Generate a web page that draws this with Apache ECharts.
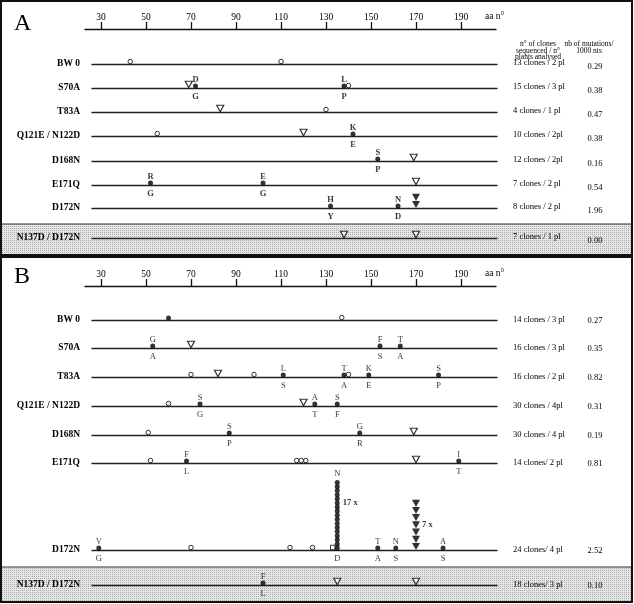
<!DOCTYPE html>
<html><head><meta charset="utf-8">
<script src="https://cdn.jsdelivr.net/npm/echarts@6/dist/echarts.min.js"></script>
<style>html,body{margin:0;padding:0;background:#fff}#c{width:634px;height:604px}</style>
</head><body><div id="c"></div>
<script>
// ---------- DATA ----------
const axisTicks = [30, 50, 70, 90, 110, 130, 150, 170, 190];
const rowNames = ['BW 0', 'S70A', 'T83A', 'Q121E / N122D', 'D168N', 'E171Q', 'D172N', 'N137D / D172N'];
const clonesA = ['13 clones / 2 pl', '15 clones / 3 pl', '4 clones / 1 pl', '10 clones / 2pl', '12 clones / 2pl', '7 clones / 2 pl', '8 clones / 2 pl', '7 clones / 1 pl'];
const rateA = ['0.29', '0.38', '0.47', '0.38', '0.16', '0.54', '1.96', '0.00'];
const clonesB = ['14 clones / 3 pl', '16 clones / 3 pl', '16 clones / 2 pl', '30 clones / 4pl', '30 clones / 4 pl', '14 clones/ 2 pl', '24 clones/ 4 pl', '18 clones/ 3 pl'];
const rateB = ['0.27', '0.35', '0.82', '0.31', '0.19', '0.81', '2.52', '0.10'];
const headClones = ['n° of clones', 'sequenced / n°', 'plants analysed'];
const headRate = ['nb of mutations/', '1000 nts'];

// silent mutations (open circles), aa positions per row
const silentA = [[43, 110], [140], [130], [55], [], [], [], []];
const silentB = [[137], [], [70, 98, 140], [60], [51], [52, 117, 119, 121], [70, 114, 124], []];
// amino-acid changes (filled circles): [aa, new aa (above), original aa (below)]
const replA = [[], [[72, 'D', 'G'], [138, 'L', 'P']], [], [[142, 'K', 'E']], [[153, 'S', 'P']], [[52, 'R', 'G'], [102, 'E', 'G']], [[132, 'H', 'Y'], [162, 'N', 'D']], []];
const replB = [[[60, '', '']], [[53, 'G', 'A'], [154, 'F', 'S'], [163, 'T', 'A']], [[111, 'L', 'S'], [138, 'T', 'A'], [149, 'K', 'E'], [180, 'S', 'P']], [[74, 'S', 'G'], [125, 'A', 'T'], [135, 'S', 'F']], [[87, 'S', 'P'], [145, 'G', 'R']], [[68, 'F', 'L'], [189, 'I', 'T']], [[29, 'V', 'G'], [153, 'T', 'A'], [161, 'N', 'S'], [182, 'A', 'S']], [[102, 'F', 'L']]];
// open triangles
const triA = [[], [69], [83], [120], [169], [170], [], [138, 170]];
const triB = [[], [70], [82], [120], [169], [170], [], [135, 170]];
// stacked filled triangles: [aa, count]
const triStackA = [[], [], [], [], [], [], [[170, 2]], []];
const triStackB = [[], [], [], [], [], [], [[170, 7]], []];
// stacked filled circles: [aa, count, above, below]
const dotStackB = [[], [], [], [], [], [], [[135, 17, 'N', 'D']], []];
// open squares
const squareB = [[], [], [], [], [], [], [133], []];

// ---------- LAYOUT ----------
const SERIF = "'Liberation Serif', 'DejaVu Serif', serif";
const X0 = 92, X1 = 497, AA0 = 26, AA1 = 206;
const pxPerAA = (X1 - X0) / (AA1 - AA0);
const axisL = 85, axisR = 496;
const rowLineA = [64, 88, 112, 136, 161, 185, 208, 238];
const rowLineB = [320, 348, 377, 406, 435, 463, 550, 585];
const GH = 90, circleStep = 4.1, triStep = 7.2;
const TRI = 'path://M0,0L10,0L5,9Z';

const grids = [], xAxes = [], yAxes = [], series = [];

function addAxis(y) {
  const gi = grids.length;
  grids.push({ left: axisL, top: y, width: axisR - axisL, height: 10 });
  xAxes.push({
    gridIndex: gi, type: 'value', position: 'top',
    min: AA0 - (X0 - axisL) / pxPerAA, max: AA1 - (X1 - axisR) / pxPerAA,
    axisLine: { show: true, onZero: false, lineStyle: { color: '#111', width: 1.3 } },
    axisTick: { show: true, customValues: axisTicks, length: 7, inside: false, lineStyle: { color: '#111', width: 1.3 } },
    axisLabel: { show: true, customValues: axisTicks, margin: 7, fontFamily: SERIF, fontSize: 9.5, color: '#000' },
    splitLine: { show: false }
  });
  yAxes.push({ gridIndex: gi, type: 'value', min: 0, max: 1, show: false });
}

function addRow(lineY, silent, repl, tri, triStack, dotStack, squares, bold) {
  const gi = grids.length;
  grids.push({ left: X0, width: X1 - X0, top: lineY - GH, height: GH });
  xAxes.push({
    gridIndex: gi, type: 'value', min: AA0, max: AA1,
    axisLine: { show: true, onZero: false, lineStyle: { color: '#222', width: 1.3 } },
    axisTick: { show: false }, axisLabel: { show: false }, splitLine: { show: false }
  });
  const yc = yAxes.length;
  yAxes.push({ gridIndex: gi, type: 'value', min: 0, max: GH / circleStep, show: false });
  yAxes.push({ gridIndex: gi, type: 'value', min: 0, max: GH / triStep, show: false });
  const lf = { fontFamily: SERIF, fontSize: 8.5, fontWeight: bold ? 'bold' : 'normal', color: '#000' };
  const base = { type: 'scatter', xAxisIndex: gi, silent: true, z: 3 };
  series.push(Object.assign({}, base, {
    yAxisIndex: yc, symbol: 'circle', symbolSize: 4.5, symbolOffset: [0, -2.5],
    itemStyle: { color: '#fff', borderColor: '#000', borderWidth: 1 },
    data: silent.map(a => [a, 0])
  }));
  series.push(Object.assign({}, base, {
    yAxisIndex: yc, symbol: 'rect', symbolSize: 4.5, symbolOffset: [0, -2.5],
    itemStyle: { color: '#fff', borderColor: '#000', borderWidth: 1 },
    data: squares.map(a => [a, 0])
  }));
  series.push(Object.assign({}, base, {
    yAxisIndex: yc, symbol: 'circle', symbolSize: 5, symbolOffset: [0, -2],
    itemStyle: { color: '#000' },
    label: Object.assign({ show: true, position: 'inside', lineHeight: 8.5, offset: [0, 2],
      formatter: p => p.data.t + '\n\n' + p.data.b }, lf),
    data: repl.map(r => ({ value: [r[0], 0], t: r[1], b: r[2] }))
  }));
  series.push(Object.assign({}, base, {
    yAxisIndex: yc + 1, symbol: TRI, symbolSize: [7, 6.5], symbolOffset: [0, -3.5],
    itemStyle: { color: '#fff', borderColor: '#000', borderWidth: 1.2 },
    data: tri.map(a => [a, 0])
  }));
  triStack.forEach(([a, n]) => {
    const d = [];
    for (let k = 0; k < n; k++) {
      const it = { value: [a, k] };
      if (n > 2 && k === 3) it.label = Object.assign({ show: true, position: 'right', distance: 2, formatter: n + ' x' }, lf, { fontWeight: 'bold' });
      d.push(it);
    }
    series.push(Object.assign({}, base, {
      yAxisIndex: yc + 1, symbol: TRI, symbolSize: [8, 7.2], symbolOffset: [0, -3.5],
      itemStyle: { color: '#000' }, data: d
    }));
  });
  dotStack.forEach(([a, n, t, b]) => {
    const d = [];
    for (let k = 0; k < n; k++) {
      const it = { value: [a, k] };
      if (k === n - 1) it.label = Object.assign({ show: true, position: 'top', distance: 2, formatter: t }, lf);
      if (k === 0) it.label = Object.assign({ show: true, position: 'bottom', distance: 4, formatter: b }, lf);
      if (k === 11) it.label = Object.assign({ show: true, position: 'right', distance: 3, formatter: n + ' x' }, lf, { fontWeight: 'bold' });
      d.push(it);
    }
    series.push(Object.assign({}, base, {
      yAxisIndex: yc, symbol: 'circle', symbolSize: 5, symbolOffset: [0, -2],
      itemStyle: { color: '#000' }, data: d
    }));
  });
}

addAxis(29);
rowLineA.forEach((y, i) => addRow(y, silentA[i], replA[i], triA[i], triStackA[i], [], [], true));
addAxis(286);
rowLineB.forEach((y, i) => addRow(y, silentB[i], replB[i], triB[i], triStackB[i], dotStackB[i], squareB[i], false));

// ---------- GRAPHICS (frames, texts) ----------
const pc = document.createElement('canvas');
pc.width = 2; pc.height = 2;
const cx = pc.getContext('2d');
cx.fillStyle = '#e6e6e6'; cx.fillRect(0, 0, 2, 2);
cx.fillStyle = '#ababab'; cx.fillRect(0, 0, 1, 1);
const shadeFill = { image: pc, repeat: 'repeat' };

function txt(x, y, text, size, align, weight) {
  return { type: 'text', z: 10, silent: true, style: {
    x: x, y: y, text: text, font: (weight || 'normal') + ' ' + size + 'px ' + SERIF, fill: '#000',
    align: align, verticalAlign: 'middle', textAlign: align, textVerticalAlign: 'middle' } };
}
const g = [];
g.push({ type: 'rect', z: 0, silent: true, shape: { x: 2, y: 224, width: 629, height: 30 }, style: { fill: shadeFill } });
g.push({ type: 'rect', z: 0, silent: true, shape: { x: 2, y: 567, width: 629, height: 34 }, style: { fill: shadeFill } });
g.push({ type: 'line', z: 1, silent: true, shape: { x1: 1, y1: 224, x2: 632, y2: 224 }, style: { stroke: '#333', lineWidth: 1.2 } });
g.push({ type: 'line', z: 1, silent: true, shape: { x1: 1, y1: 567, x2: 632, y2: 567 }, style: { stroke: '#333', lineWidth: 1.2 } });
g.push({ type: 'rect', z: 1, silent: true, shape: { x: 1, y: 1, width: 631, height: 254 }, style: { fill: 'none', stroke: '#111', lineWidth: 2 } });
g.push({ type: 'rect', z: 1, silent: true, shape: { x: 1, y: 257, width: 631, height: 345 }, style: { fill: 'none', stroke: '#111', lineWidth: 2 } });
g.push(txt(14, 24, 'A', 24, 'left'));
g.push(txt(14, 277, 'B', 24, 'left'));
g.push(txt(485, 16, 'aa n°', 9.5, 'left'));
g.push(txt(485, 273, 'aa n°', 9.5, 'left'));
headClones.forEach((s, i) => g.push(txt(538, 44 + i * 6.6, s, 7.5, 'center')));
headRate.forEach((s, i) => g.push(txt(589, 44 + i * 6.6, s, 7.5, 'center')));
rowNames.forEach((s, i) => {
  g.push(txt(80, rowLineA[i], s, 9.5, 'right', 'bold'));
  g.push(txt(80, rowLineB[i], s, 9.5, 'right', 'bold'));
  g.push(txt(513, rowLineA[i] - 1, clonesA[i], 8.5, 'left'));
  g.push(txt(595, rowLineA[i] + 2.5, rateA[i], 8.5, 'center'));
  g.push(txt(513, rowLineB[i], clonesB[i], 8.5, 'left'));
  g.push(txt(595, rowLineB[i] + 1, rateB[i], 8.5, 'center'));
});

const chart = echarts.init(document.getElementById('c'), null, { renderer: 'canvas' });
chart.setOption({
  animation: false,
  backgroundColor: '#fff',
  grid: grids, xAxis: xAxes, yAxis: yAxes, series: series,
  graphic: { elements: g }
});
</script>
</body></html>
